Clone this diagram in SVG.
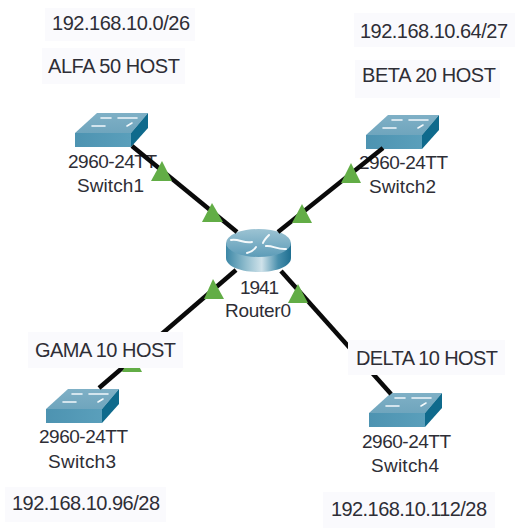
<svg xmlns="http://www.w3.org/2000/svg" width="518" height="531" viewBox="0 0 518 531">
<style>
text{font-family:"Liberation Sans",Arial,sans-serif;fill:#2e2e36}
.dev{font-size:19px;text-anchor:middle}
.note{font-size:20px}
.bg{fill:#fafafd}
.link{stroke:#0a0a0a;stroke-width:4.500;fill:none}
.tri{fill:#62ad46}
.top{fill:url(#swTop)}
.front{fill:url(#swFront)}
.side{fill:#0f6a8c}
.dot{stroke:#f2f8fb;stroke-width:1.6;fill:none;stroke-linecap:round}
</style>
<defs>
<linearGradient id="swTop" x1="0" y1="0" x2="0" y2="1"><stop offset="0" stop-color="#7fb0c6"/><stop offset="1" stop-color="#6fa5bd"/></linearGradient>
<linearGradient id="swFront" x1="0" y1="0" x2="1" y2="0"><stop offset="0" stop-color="#4d93b1"/><stop offset="1" stop-color="#5a9fbb"/></linearGradient>
<linearGradient id="rtBody" x1="0" y1="0" x2="1" y2="0"><stop offset="0" stop-color="#3c87a6"/><stop offset="0.3" stop-color="#8fbccd"/><stop offset="0.55" stop-color="#cfe2ea"/><stop offset="0.8" stop-color="#4a90ad"/><stop offset="1" stop-color="#1f6f91"/></linearGradient>
<linearGradient id="rtTop" x1="0" y1="0" x2="0" y2="1"><stop offset="0" stop-color="#9cc3d3"/><stop offset="1" stop-color="#5d9cb8"/></linearGradient>
<g id="sw">
<polygon class="top" points="0,20 22,0 73,0 56,20"/>
<polygon class="front" points="0,20 56,20 56,34 0,34"/>
<polygon class="side" points="56,20 73,0 73,15 56,34"/>
<path class="dot" d="M26,5H36M43,5H62M17,13H30M52,13L57,10"/>
</g>
</defs>
<rect width="518" height="531" fill="#fff"/>
<g id="Switch1"><use href="#sw" x="75" y="113"/><text class="dev" x="112.500" y="168" textLength="89">2960-24TT</text><text class="dev" x="110.500" y="192" textLength="67">Switch1</text></g>
<g id="Switch2"><use href="#sw" x="366" y="115"/><text class="dev" x="403.500" y="169" textLength="89">2960-24TT</text><text class="dev" x="402.500" y="193" textLength="67">Switch2</text></g>
<g id="Switch3"><use href="#sw" x="46" y="389"/><text class="dev" x="83.500" y="443" textLength="89">2960-24TT</text><text class="dev" x="82" y="468" textLength="68">Switch3</text></g>
<g id="Switch4"><use href="#sw" x="369" y="393"/><text class="dev" x="406.500" y="448" textLength="89">2960-24TT</text><text class="dev" x="405" y="472" textLength="68">Switch4</text></g>
<g id="Router0">
<path d="M226,243V258C226,266 240,272 258.500,272C277,272 291,266 291,258V243Z" fill="url(#rtBody)"/>
<ellipse cx="258.500" cy="243" rx="32.500" ry="14" fill="url(#rtTop)"/>
<path d="M231,240C238,238 244,244 252,242M269,235C266,238 264,240 263,243M247,253C251,252 254,250 256,247M266,246C272,245 278,250 286,249" stroke="#f4f9fb" stroke-width="2" fill="none" stroke-linecap="round"/>
<text class="dev" x="259.500" y="294" textLength="39">1941</text>
<text class="dev" x="258" y="317" textLength="66">Router0</text>
</g>
<g id="connectors">
<path class="link" d="M132,146L237,232"/>
<path class="link" d="M383,148L278,232"/>
<path class="link" d="M236,270L99,388"/>
<path class="link" d="M281,271L391,394"/>
<polygon class="tri" points="162,161 151,181 172,181"/>
<polygon class="tri" points="212,203 202,222 223,222"/>
<polygon class="tri" points="351,163 341,183 361,183"/>
<polygon class="tri" points="302,204 292,223 312,223"/>
<polygon class="tri" points="213,279 204,299 224,299"/>
<polygon class="tri" points="298,284 288,303 308,303"/>
<polygon class="tri" points="132,353 122,372 142,372"/>
</g>
<g id="note-alfa-net"><rect class="bg" x="45" y="8" width="150" height="33"/><text class="note" x="52" y="30" textLength="138">192.168.10.0/26</text></g>
<g id="note-alfa"><rect class="bg" x="42" y="48" width="143" height="36"/><text class="note" x="48" y="73" textLength="132">ALFA 50 HOST</text></g>
<g id="note-beta-net"><rect class="bg" x="354" y="13" width="161" height="34"/><text class="note" x="360" y="38" textLength="148">192.168.10.64/27</text></g>
<g id="note-beta"><rect class="bg" x="355" y="60" width="145" height="38"/><text class="note" x="362" y="81.500" textLength="134">BETA 20 HOST</text></g>
<g id="note-gama"><rect class="bg" x="28" y="332" width="155" height="36"/><text class="note" x="35" y="357" textLength="141">GAMA 10 HOST</text></g>
<g id="note-gama-net"><rect class="bg" x="5" y="487" width="161" height="35"/><text class="note" x="12" y="510" textLength="148">192.168.10.96/28</text></g>
<g id="note-delta"><rect class="bg" x="348" y="340" width="157" height="35"/><text class="note" x="356" y="365" textLength="142">DELTA 10 HOST</text></g>
<g id="note-delta-net"><rect class="bg" x="323" y="492" width="172" height="36"/><text class="note" x="331" y="516" textLength="156">192.168.10.112/28</text></g>
</svg>
